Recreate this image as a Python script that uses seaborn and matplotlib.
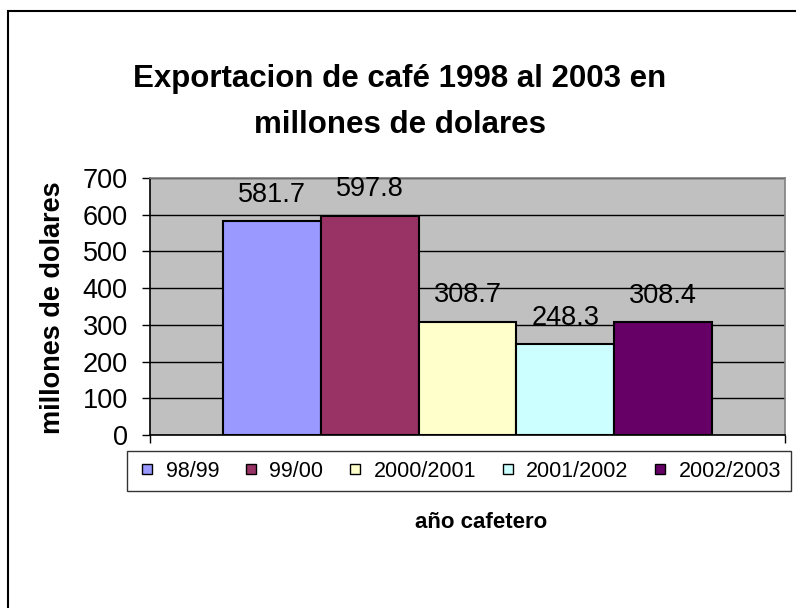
import matplotlib
matplotlib.use("Agg")
import matplotlib.pyplot as plt
import seaborn as sns
import pandas as pd
from matplotlib.patches import Rectangle
from matplotlib.lines import Line2D

# Data
series = ["98/99", "99/00", "2000/2001", "2001/2002", "2002/2003"]
values = [581.7, 597.8, 308.7, 248.3, 308.4]
colors = ["#9999FF", "#993366", "#FFFFCC", "#CCFFFF", "#660066"]
yticks = [0, 100, 200, 300, 400, 500, 600, 700]

df = pd.DataFrame({"grupo": ["café"] * len(series), "serie": series, "valor": values})

sns.set_style("white")
plt.rcParams["font.family"] = ["Liberation Sans", "DejaVu Sans"]
for k in ["text.color", "axes.labelcolor", "xtick.color", "ytick.color"]:
    plt.rcParams[k] = "black"

W, H = 796, 608
fig = plt.figure(figsize=(W / 100, H / 100), dpi=100)
fig.patch.set_facecolor("white")

def fx(px):
    return px / W

def fy(py):
    return 1 - py / H

ax = fig.add_axes([fx(150), fy(435), fx(785) - fx(150), fy(178) - fy(435)])
ax.set_facecolor("#C0C0C0")

sns.barplot(data=df, x="grupo", y="valor", hue="serie", hue_order=series,
            palette=colors, width=0.77, gap=0, dodge=True, edgecolor="black",
            linewidth=1.5, saturation=1, legend=False, ax=ax, zorder=3)

ax.set_ylim(0, 700)
ax.set_xlim(-0.5, 0.5)
ax.set_yticks(yticks)
ax.set_yticklabels([str(t) for t in yticks], fontsize=19.5)
ax.yaxis.grid(True, color="black", linewidth=1.0, zorder=0)
ax.set_axisbelow(True)
ax.set_xticks([-0.5, 0.5])
ax.set_xticklabels(["", ""])
ax.tick_params(axis="y", direction="out", length=5.5, width=1, color="black", pad=10.5, left=True)
ax.tick_params(axis="x", direction="out", length=6, width=1, color="black", bottom=True)

for side in ["top", "right"]:
    ax.spines[side].set_color("#808080")
    ax.spines[side].set_linewidth(1.2)
for side in ["left", "bottom"]:
    ax.spines[side].set_color("black")
    ax.spines[side].set_linewidth(1.2)

# data labels
for cont in ax.containers:
    ax.bar_label(cont, fmt="%.1f", fontsize=19.5, padding=9.5)

ax.set_xlabel("")
ax.set_ylabel("")
fig.text(fx(53), fy(308), "millones de dolares", rotation=90, ha="center", va="center",
         fontsize=19.5, fontweight="bold")

fig.text(fx(400), fy(102), "Exportacion de café 1998 al 2003 en\nmillones de dolares",
         ha="center", va="center", fontsize=22.5, fontweight="bold", linespacing=1.72)

fig.text(fx(481), fy(523), "año cafetero", ha="center", va="center",
         fontsize=16, fontweight="bold")

handles = [Line2D([], [], linestyle="none", marker="s", markersize=7.5,
                  markerfacecolor=c, markeredgecolor="black", markeredgewidth=1.0)
           for c in colors]
leg = fig.legend(handles, series, loc="upper left",
                 bbox_to_anchor=(fx(127), fy(451)), ncol=5, fontsize=15.5,
                 frameon=True, fancybox=False, shadow=False, borderaxespad=0,
                 handlelength=1.0, handletextpad=0.35,
                 columnspacing=0.98, borderpad=0.45)
leg.get_frame().set_edgecolor("black")
leg.get_frame().set_linewidth(1.0)

fig.patches.append(Rectangle((fx(8), fy(700)), 1.2, fy(11) - fy(700),
                             transform=fig.transFigure, fill=False,
                             edgecolor="black", linewidth=1.5, figure=fig))

fig.savefig("out.png", dpi=100)
